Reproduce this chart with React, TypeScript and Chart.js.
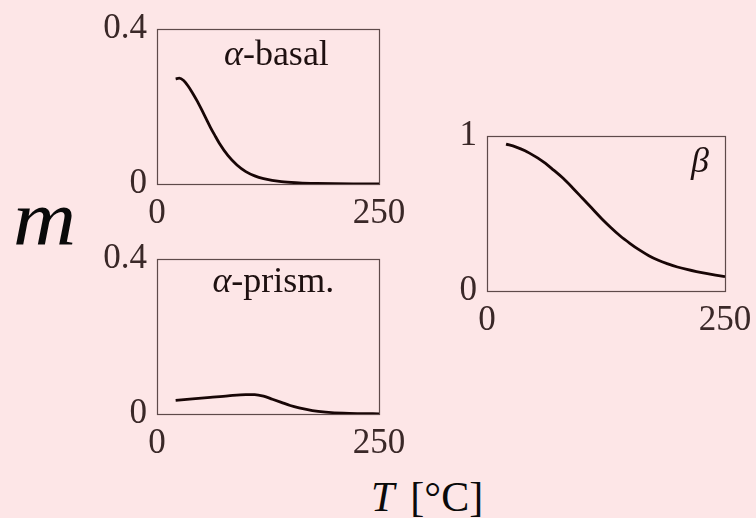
import React, { useEffect, useRef } from "react";
import { Chart, registerables } from "chart.js";

Chart.register(...registerables);

// ---- data ----
const T_BASAL = [21, 25, 30, 35, 40, 45, 50, 55, 60, 65, 70, 80, 90, 100, 110, 120, 140, 160, 180, 200, 225, 250];
const M_BASAL = [0.271, 0.273, 0.267, 0.253, 0.235, 0.215, 0.193, 0.17, 0.147, 0.126, 0.106, 0.073, 0.049, 0.032, 0.021, 0.014, 0.006, 0.003, 0.0015, 0.0007, 0.0003, 0.0001];

const T_PRISM = [21, 40, 60, 80, 100, 110, 120, 130, 140, 150, 160, 175, 190, 210, 230, 250];
const M_PRISM = [0.035, 0.039, 0.043, 0.047, 0.05, 0.05, 0.046, 0.038, 0.03, 0.022, 0.016, 0.009, 0.005, 0.002, 0.001, 0.0005];

const T_BETA = [20, 30, 40, 50, 60, 70, 80, 90, 100, 110, 120, 130, 140, 150, 160, 170, 180, 190, 200, 210, 220, 230, 240, 250];
const M_BETA = [0.948, 0.93, 0.905, 0.87, 0.83, 0.78, 0.727, 0.665, 0.6, 0.535, 0.47, 0.41, 0.355, 0.308, 0.265, 0.228, 0.198, 0.175, 0.155, 0.139, 0.125, 0.113, 0.102, 0.092];

const X_TICKS = [0, 250];
const Y_TICKS_ALPHA = [0, 0.4];
const Y_TICKS_BETA = [0, 1];

const BG = "#fde6e7";
const TEXT = "#3a2828";
const BOX = "#5e4a4a";
const LINE = "#180606";
const FONT = "'Liberation Serif', 'DejaVu Serif', serif";

type Part = { text: string; italic: boolean };

interface PanelProps {
  xs: number[];
  ys: number[];
  yTicks: number[];
  title: Part[];
  fx: number;
  fy: number;
  left: number;
  top: number;
  plotW: number;
}

const Y_W = 80;
const X_H = 55;
const TOP_PAD = 40;
const RIGHT_PAD = 45;
const PLOT_H = 155;

function Panel(p: PanelProps) {
  const ref = useRef<HTMLCanvasElement | null>(null);
  const width = Y_W + p.plotW + RIGHT_PAD;
  const height = TOP_PAD + PLOT_H + X_H;
  useEffect(() => {
    const canvas = ref.current!;
    const boxPlugin = {
      id: "boxAndTitle",
      beforeDatasetsDraw(chart: any) {
        const a = chart.chartArea;
        const ctx = chart.ctx;
        ctx.save();
        ctx.strokeStyle = BOX;
        ctx.lineWidth = 1.2;
        ctx.strokeRect(Math.round(a.left) + 0.5, Math.round(a.top) + 0.5, Math.round(a.right - a.left), Math.round(a.bottom - a.top));
        // title
        ctx.fillStyle = "#1e1010";
        ctx.textBaseline = "alphabetic";
        let total = 0;
        const fonts = p.title.map((t) => (t.italic ? "italic " : "") + "36px " + FONT);
        p.title.forEach((t, i) => {
          ctx.font = fonts[i];
          total += ctx.measureText(t.text).width;
        });
        let x = a.left + p.fx * (a.right - a.left) - total / 2;
        const y = a.top + p.fy * (a.bottom - a.top);
        p.title.forEach((t, i) => {
          ctx.font = fonts[i];
          ctx.textAlign = "left";
          ctx.fillText(t.text, x, y);
          x += ctx.measureText(t.text).width;
        });
        ctx.restore();
      },
    };
    const chart = new Chart(canvas, {
      type: "line",
      data: {
        datasets: [
          {
            data: p.xs.map((x, i) => ({ x, y: p.ys[i] })),
            borderColor: LINE,
            borderWidth: 2.8,
            pointRadius: 0,
            tension: 0.4,
            cubicInterpolationMode: "monotone",
            fill: false,
          },
        ],
      },
      options: {
        responsive: false,
        animation: false,
        devicePixelRatio: 1,
        layout: { padding: { top: TOP_PAD, right: RIGHT_PAD, left: 0, bottom: 0 } },
        plugins: { legend: { display: false }, tooltip: { enabled: false }, title: { display: false } },
        scales: {
          x: {
            type: "linear",
            min: X_TICKS[0],
            max: X_TICKS[X_TICKS.length - 1],
            grid: { display: false, drawTicks: false },
            border: { display: false },
            afterBuildTicks: (s: any) => {
              s.ticks = X_TICKS.map((v) => ({ value: v }));
            },
            afterFit: (s: any) => {
              s.height = X_H;
            },
            ticks: {
              color: TEXT,
              font: { family: FONT, size: 35 },
              padding: 9,
              maxRotation: 0,
              autoSkip: false,
              callback: (v: any) => String(v),
            },
          },
          y: {
            type: "linear",
            min: p.yTicks[0],
            max: p.yTicks[p.yTicks.length - 1],
            grid: { display: false, drawTicks: false },
            border: { display: false },
            afterBuildTicks: (s: any) => {
              s.ticks = p.yTicks.map((v) => ({ value: v }));
            },
            afterFit: (s: any) => {
              s.width = Y_W;
            },
            ticks: {
              color: TEXT,
              font: { family: FONT, size: 35 },
              padding: 10,
              autoSkip: false,
              callback: (v: any) => String(v),
            },
          },
        },
      },
      plugins: [boxPlugin],
    } as any);
    return () => chart.destroy();
  }, []);
  return (
    <canvas
      ref={ref}
      width={width}
      height={height}
      style={{ position: "absolute", left: p.left - Y_W, top: p.top - TOP_PAD, width, height }}
    />
  );
}

export default function App() {
  useEffect(() => {
    document.body.style.background = BG;
  }, []);
  return (
    <div style={{ position: "absolute", left: 0, top: 0, width: 756, height: 518, background: BG, overflow: "hidden" }}>
      <Panel
        xs={T_BASAL}
        ys={M_BASAL}
        yTicks={Y_TICKS_ALPHA}
        title={[{ text: "α", italic: true }, { text: "-basal", italic: false }]}
        fx={0.538}
        fy={0.232}
        left={157}
        top={29}
        plotW={222}
      />
      <Panel
        xs={T_PRISM}
        ys={M_PRISM}
        yTicks={Y_TICKS_ALPHA}
        title={[{ text: "α", italic: true }, { text: "-prism.", italic: false }]}
        fx={0.524}
        fy={0.211}
        left={157}
        top={259}
        plotW={222}
      />
      <Panel
        xs={T_BETA}
        ys={M_BETA}
        yTicks={Y_TICKS_BETA}
        title={[{ text: "β", italic: true }]}
        fx={0.895}
        fy={0.23}
        left={487}
        top={136}
        plotW={238}
      />
      <div
        style={{
          position: "absolute",
          left: 13,
          top: 180,
          font: "italic 78px " + FONT,
          lineHeight: 1,
          color: "#0a0a0a",
          transform: "scaleX(1.12)",
          transformOrigin: "left top",
        }}
      >
        m
      </div>
      <div
        style={{
          position: "absolute",
          left: 371,
          top: 476,
          font: "42px " + FONT,
          lineHeight: 1,
          color: "#0a0a0a",
          whiteSpace: "nowrap",
        }}
      >
        <span style={{ fontStyle: "italic" }}>T</span>
        <span style={{ marginLeft: 16 }}>[°C]</span>
      </div>
    </div>
  );
}
